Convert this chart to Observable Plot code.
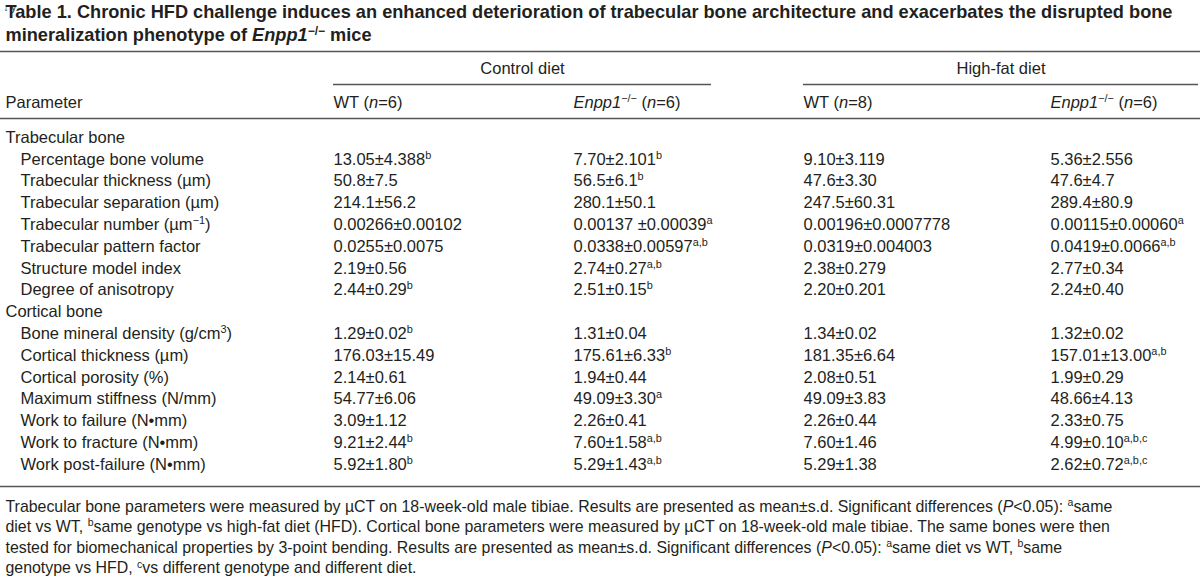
<!DOCTYPE html>
<html><head><meta charset="utf-8">
<script src="https://cdn.jsdelivr.net/npm/d3@7"></script>
<script src="https://cdn.jsdelivr.net/npm/@observablehq/plot@0.6"></script>
<style>
html,body{margin:0;padding:0;background:#fff;}
</style>
</head><body><div id="chart"></div>
<script>
// ---------------- data (^x^ = superscript, _x_ = italic) ----------------
const titleLines = [
  "Table 1. Chronic HFD challenge induces an enhanced deterioration of trabecular bone architecture and exacerbates the disrupted bone",
  "mineralization phenotype of _Enpp1_^−/−^ mice"
];
const groupLabels = ["Control diet", "High-fat diet"];
const parameterHeader = "Parameter";
const columnLabels = ["WT (_n_=6)", "_Enpp1_^−/−^ (_n_=6)", "WT (_n_=8)", "_Enpp1_^−/−^ (_n_=6)"];
const sectionLabels = ["Trabecular bone", "Cortical bone"];
const trabecularParams = [
  "Percentage bone volume", "Trabecular thickness (µm)", "Trabecular separation (µm)",
  "Trabecular number (µm^−1^)", "Trabecular pattern factor", "Structure model index", "Degree of anisotropy"
];
const corticalParams = [
  "Bone mineral density (g/cm^3^)", "Cortical thickness (µm)", "Cortical porosity (%)",
  "Maximum stiffness (N/mm)", "Work to failure (N•mm)", "Work to fracture (N•mm)", "Work post-failure (N•mm)"
];
const wtControl = ["13.05±4.388","50.8±7.5","214.1±56.2","0.00266±0.00102","0.0255±0.0075","2.19±0.56","2.44±0.29",
  "1.29±0.02","176.03±15.49","2.14±0.61","54.77±6.06","3.09±1.12","9.21±2.44","5.92±1.80"];
const wtControlSig = ["b","","","","","","b","b","","","","","b","b"];
const enppControl = ["7.70±2.101","56.5±6.1","280.1±50.1","0.00137 ±0.00039","0.0338±0.00597","2.74±0.27","2.51±0.15",
  "1.31±0.04","175.61±6.33","1.94±0.44","49.09±3.30","2.26±0.41","7.60±1.58","5.29±1.43"];
const enppControlSig = ["b","b","","a","a,b","a,b","b","","b","","a","","a,b","a,b"];
const wtHfd = ["9.10±3.119","47.6±3.30","247.5±60.31","0.00196±0.0007778","0.0319±0.004003","2.38±0.279","2.20±0.201",
  "1.34±0.02","181.35±6.64","2.08±0.51","49.09±3.83","2.26±0.44","7.60±1.46","5.29±1.38"];
const wtHfdSig = ["","","","","","","","","","","","","",""];
const enppHfd = ["5.36±2.556","47.6±4.7","289.4±80.9","0.00115±0.00060","0.0419±0.0066","2.77±0.34","2.24±0.40",
  "1.32±0.02","157.01±13.00","1.99±0.29","48.66±4.13","2.33±0.75","4.99±0.10","2.62±0.72"];
const enppHfdSig = ["","","","a","a,b","","","","a,b","","","","a,b,c","a,b,c"];
const footnoteLines = [
  "Trabecular bone parameters were measured by µCT on 18-week-old male tibiae. Results are presented as mean±s.d. Significant differences (_P_<0.05): ^a^same",
  "diet vs WT, ^b^same genotype vs high-fat diet (HFD). Cortical bone parameters were measured by µCT on 18-week-old male tibiae. The same bones were then",
  "tested for biomechanical properties by 3-point bending. Results are presented as mean±s.d. Significant differences (_P_<0.05): ^a^same diet vs WT, ^b^same",
  "genotype vs HFD, ^c^vs different genotype and different diet."
];

// ---------------- layout ----------------
const W = 1200, H = 578;
const font = "'Liberation Sans', Arial, Helvetica, sans-serif";
const fsTitle = 18.2, fsBody = 16.5, fsNote = 15.9;
const xLabel = 5, xIndent = 20;
const xCols = [333, 573, 803, 1050];
const groupSpans = [[333, 711], [803, 1198]];
const yTitle = [12, 35];
const yRuleTop = 51, yGroup = 68, yGroupRule = 84, yHead = 102, yRuleHead = 118;
const yBody0 = 137, pitch = 21.8;
const yNote0 = 506, notePitch = 20.6;

// ---------------- build table rows ----------------
const columns = [[wtControl, wtControlSig], [enppControl, enppControlSig], [wtHfd, wtHfdSig], [enppHfd, enppHfdSig]];
const body = [];
let r = 0, p = 0;
for (const [s, params] of [[sectionLabels[0], trabecularParams], [sectionLabels[1], corticalParams]]) {
  body.push({row: r++, x: xLabel, text: s});
  for (const name of params) {
    body.push({row: r, x: xIndent, text: name});
    columns.forEach(([vals, sig], c) => {
      body.push({row: r, x: xCols[c], text: vals[p] + (sig[p] ? "^" + sig[p] + "^" : "")});
    });
    r++; p++;
  }
}
const nRows = r;
const yRow = i => yBody0 + i * pitch;
const yRuleFoot = yRow(nRows - 1) + 22;

const headerStart = [
  {x: xLabel, y: yHead, text: parameterHeader},
  ...columnLabels.map((c, i) => ({x: xCols[i], y: yHead, text: c}))
];
const headerGroups = groupLabels.map((g, i) => ({x: (groupSpans[i][0] + groupSpans[i][1]) / 2, y: yGroup, text: g}));
const titleRows = titleLines.map((t, i) => ({x: xLabel, y: yTitle[i], text: t}));
const noteRows = footnoteLines.map((t, i) => ({x: xLabel, y: yNote0 + i * notePitch, text: t}));
const rules = [
  {y: yRuleTop, x1: 0, x2: W},
  ...groupSpans.map(([a, b]) => ({y: yGroupRule, x1: a, x2: b})),
  {y: yRuleHead, x1: 0, x2: W},
  {y: yRuleFoot, x1: 0, x2: W}
];

const ink = "#231f20";
const chart = Plot.plot({
  width: W, height: H, margin: 0,
  x: {type: "identity"}, y: {type: "identity"},
  style: {fontFamily: font, background: "#fff", color: ink},
  marks: [
    Plot.ruleY(rules, {y: "y", x1: "x1", x2: "x2", stroke: "#555", strokeWidth: 1.4}),
    Plot.text(titleRows, {x: "x", y: "y", text: "text", textAnchor: "start", lineAnchor: "middle", fontSize: fsTitle, fontWeight: "bold", fill: ink}),
    Plot.text(headerGroups, {x: "x", y: "y", text: "text", textAnchor: "middle", lineAnchor: "middle", fontSize: fsBody, fill: ink}),
    Plot.text(headerStart, {x: "x", y: "y", text: "text", textAnchor: "start", lineAnchor: "middle", fontSize: fsBody, fill: ink}),
    Plot.text(body, {x: "x", y: d => yRow(d.row), text: "text", textAnchor: "start", lineAnchor: "middle", fontSize: fsBody, fill: ink}),
    Plot.text(noteRows, {x: "x", y: "y", text: "text", textAnchor: "start", lineAnchor: "middle", fontSize: fsNote, fill: ink})
  ]
});
document.getElementById("chart").appendChild(chart);

// ---------------- rich text post-processing ----------------
const NS = "http://www.w3.org/2000/svg";
d3.select(chart).selectAll("text").each(function () {
  const el = this;
  const cs = getComputedStyle(el);
  // make anchor / size explicit on each text element
  el.setAttribute("text-anchor", cs.textAnchor || "start");
  el.setAttribute("font-size", cs.fontSize);
  const raw = el.textContent;
  if (!/[\^_]/.test(raw)) return;
  const base = parseFloat(cs.fontSize) || 16;
  const supSize = base * 0.66, shift = base * 0.36;
  const segs = [];
  let sup = false, it = false, buf = "";
  for (const ch of raw) {
    if (ch === "^" || ch === "_") {
      if (buf) segs.push({t: buf, sup, it});
      buf = "";
      if (ch === "^") sup = !sup; else it = !it;
    } else buf += ch;
  }
  if (buf) segs.push({t: buf, sup, it});
  el.textContent = "";
  let raised = false;
  const spans = [];
  for (const s of segs) {
    const ts = document.createElementNS(NS, "tspan");
    ts.textContent = s.t;
    if (s.it) ts.setAttribute("font-style", "italic");
    if (s.sup) {
      ts.setAttribute("font-size", supSize);
      if (!raised) { ts.setAttribute("dy", -shift); raised = true; }
    } else if (raised) { ts.setAttribute("dy", shift); raised = false; }
    el.appendChild(ts);
    spans.push(ts);
  }
  const pos = spans.map(ts => ts.getStartPositionOfChar(0));
  el.removeAttribute("dy");
  spans.forEach((ts, k) => {
    ts.removeAttribute("dy");
    ts.setAttribute("x", pos[k].x.toFixed(2));
    ts.setAttribute("y", pos[k].y.toFixed(2));
  });
});
</script>
</body></html>
